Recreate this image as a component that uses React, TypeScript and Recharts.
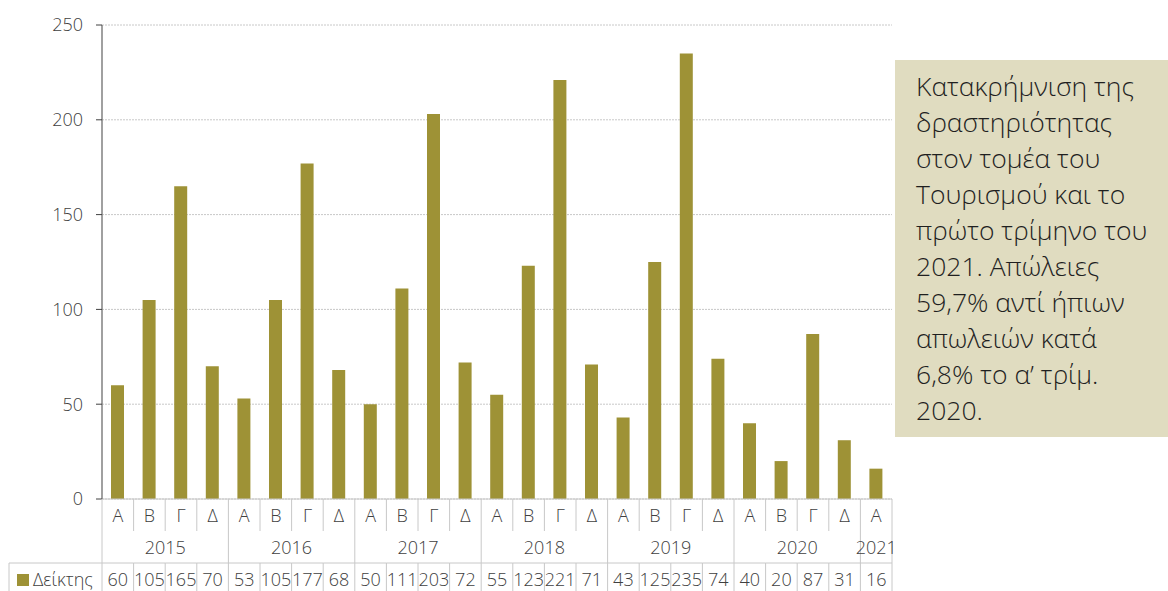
import { Bar, BarChart, CartesianGrid, XAxis, YAxis } from "recharts";

const quarters = ["Α", "Β", "Γ", "Δ", "Α", "Β", "Γ", "Δ", "Α", "Β", "Γ", "Δ", "Α", "Β", "Γ", "Δ", "Α", "Β", "Γ", "Δ", "Α", "Β", "Γ", "Δ", "Α"];
const years = ["2015", "2015", "2015", "2015", "2016", "2016", "2016", "2016", "2017", "2017", "2017", "2017", "2018", "2018", "2018", "2018", "2019", "2019", "2019", "2019", "2020", "2020", "2020", "2020", "2021"];
const index = [60, 105, 165, 70, 53, 105, 177, 68, 50, 111, 203, 72, 55, 123, 221, 71, 43, 125, 235, 74, 40, 20, 87, 31, 16];
const yTicks = [0, 50, 100, 150, 200, 250];
const seriesName = "Δείκτης";
const noteLines = [
  "Κατακρήμνιση της",
  "δραστηριότητας",
  "στον τομέα του",
  "Τουρισμού και το",
  "πρώτο τρίμηνο του",
  "2021. Απώλειες",
  "59,7% αντί ήπιων",
  "απωλειών κατά",
  "6,8% το α’ τρίμ.",
  "2020.",
];

const data = quarters.map((q, i) => ({ key: i, q, year: years[i], value: index[i] }));

const FONT = "'Open Sans', sans-serif";
const W = 300;
const BAR = "#9E9236";
const LINE = "#c8c8c8";
const TXT = "#404040";
const CHART_W = 900;
const PLOT_LEFT = 102;
const PLOT_RIGHT = 892;
const BAND = (PLOT_RIGHT - PLOT_LEFT) / data.length;
const ROW1 = 32; // quarter row
const ROW2 = 32; // year row
const ROW3 = 28; // value row

function TableTick(props: any) {
  const { x, y, payload } = props;
  const i = payload.index ?? payload.value;
  const d = data[i];
  const half = BAND / 2;
  const lastOfYear = i === data.length - 1 || data[i + 1].year !== d.year;
  const firstOfYear = i === 0 || data[i - 1].year !== d.year;
  const groupSize = data.filter((r) => r.year === d.year).length;
  const y1 = y + ROW1;
  const y2 = y1 + ROW2;
  const y3 = y2 + ROW3;
  return (
    <g fontFamily={FONT} fontWeight={W}>
      <text x={x} y={y + ROW1 / 2} textAnchor="middle" dominantBaseline="central" fontSize={18} fill={TXT}>
        {d.q}
      </text>
      <line x1={x + half} x2={x + half} y1={y} y2={lastOfYear ? y2 : y1} stroke={LINE} />
      {i === 0 && <line x1={x - half} x2={x - half} y1={y} y2={y3} stroke={LINE} />}
      {firstOfYear && (
        <text
          x={x + ((groupSize - 1) * BAND) / 2}
          y={y1 + ROW2 / 2}
          textAnchor="middle"
          dominantBaseline="central"
          fontSize={18}
          fill={TXT}
        >
          {d.year}
        </text>
      )}
      <line x1={x - half} x2={x + half} y1={y2} y2={y2} stroke={LINE} />
      <line x1={x + half} x2={x + half} y1={y2} y2={y3} stroke={LINE} />
      <text x={x} y={y2 + ROW3 / 2 + 2} textAnchor="middle" dominantBaseline="central" fontSize={18} fill={TXT}>
        {d.value}
      </text>
      {i === 0 && (
        <g>
          <line x1={9} x2={x - half} y1={y2} y2={y2} stroke={LINE} />
          <line x1={9} x2={9} y1={y2} y2={y3} stroke={LINE} />
          <rect x={17} y={y2 + 11} width={12} height={12} fill={BAR} />
          <text x={33} y={y2 + ROW3 / 2 + 2} dominantBaseline="central" fontSize={18} fill={TXT}>
            {seriesName}
          </text>
        </g>
      )}
    </g>
  );
}

export default function App() {
  return (
    <div style={{ position: "absolute", left: 0, top: 0, width: 1168, height: 591, background: "#fff", fontFamily: FONT }}>
      <BarChart width={CHART_W} height={591} data={data} margin={{ top: 25, right: CHART_W - PLOT_RIGHT, left: 0, bottom: 0 }}>
        <CartesianGrid vertical={false} stroke={LINE} strokeDasharray="2 1" />
        <XAxis
          dataKey="key"
          type="category"
          interval={0}
          height={ROW1 + ROW2 + ROW3}
          tickLine={false}
          tickSize={0}
          tickMargin={0}
          axisLine={{ stroke: LINE }}
          tick={<TableTick />}
        />
        <YAxis
          width={PLOT_LEFT}
          domain={[0, 250]}
          ticks={yTicks}
          interval={0}
          tickSize={6}
          tickMargin={13}
          axisLine={{ stroke: "#808080", strokeWidth: 1.5 }}
          tickLine={{ stroke: "#404040" }}
          tick={{ fontSize: 18, fill: TXT, fontFamily: FONT, fontWeight: W }}
        />
        <Bar dataKey="value" fill={BAR} barSize={13} isAnimationActive={false} />
      </BarChart>
      <div
        style={{
          position: "absolute",
          left: 895,
          top: 60,
          width: 273,
          height: 377,
          background: "#E0DCC0",
          boxSizing: "border-box",
          padding: "8px 0 0 21px",
          color: "#1f1f1f",
          fontSize: 26.5,
          fontWeight: W,
          lineHeight: "36px",
          whiteSpace: "nowrap",
        }}
      >
        {noteLines.map((l) => (
          <div key={l}>{l}</div>
        ))}
      </div>
    </div>
  );
}
